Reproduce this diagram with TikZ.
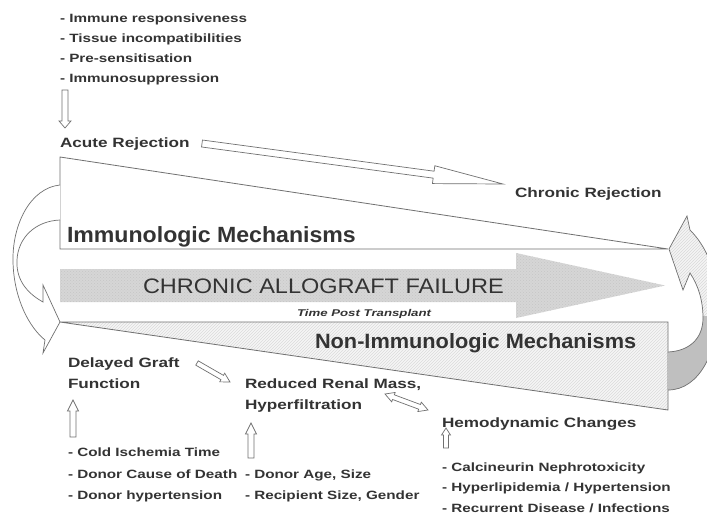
\documentclass[tikz,border=0pt]{standalone}
\usepackage{fontspec}
\setmainfont{Liberation Sans}
\newfontfamily\lblfont[FakeStretch=1.27]{Liberation Sans}
\newfontfamily\bigfont[FakeStretch=1.05]{Liberation Sans}
\newfontfamily\chfont[FakeStretch=1.12]{Liberation Sans}
\newfontfamily\tptfont[FakeStretch=1.35]{Liberation Sans}
\usetikzlibrary{calc,patterns}
\definecolor{txt}{HTML}{333333}
\definecolor{ln}{HTML}{707070}
\newcommand\hollowarr[5]{%
  \coordinate (hah) at ($(#2)!#5!(#1)$);
  \draw[blockarr] ($(#1)!#3!90:(#2)$) -- ($(hah)!#3!90:(#2)$) -- ($(hah)!#4!90:(#2)$) -- (#2)
    -- ($(hah)!#4!-90:(#2)$) -- ($(hah)!#3!-90:(#2)$) -- ($(#1)!#3!-90:(#2)$) -- cycle;
}
\newcommand\hollowdbl[5]{%
  \coordinate (hdA) at ($(#1)!#5!(#2)$);
  \coordinate (hdB) at ($(#2)!#5!(#1)$);
  \draw[blockarr] (#1) -- ($(hdA)!#4!90:(#2)$) -- ($(hdA)!#3!90:(#2)$) -- ($(hdB)!#3!90:(#2)$)
    -- ($(hdB)!#4!90:(#2)$) -- (#2) -- ($(hdB)!#4!-90:(#2)$) -- ($(hdB)!#3!-90:(#2)$)
    -- ($(hdA)!#3!-90:(#2)$) -- ($(hdA)!#4!-90:(#2)$) -- cycle;
}
\begin{document}
\begin{tikzpicture}[x=1pt,y=-1pt,
  every node/.style={inner sep=0pt, outer sep=0pt, text=txt},
  lbl/.style={anchor=base west, font=\lblfont\bfseries\fontsize{13.5}{16}\selectfont},
  lst/.style={anchor=base west, font=\lblfont\bfseries\fontsize{12}{14}\selectfont},
  blockarr/.style={draw=ln, line width=0.7pt, fill=white, line join=miter},
  wedgeline/.style={draw=ln, line width=0.8pt, line join=miter},
]
\useasboundingbox[fill=white] (0,0) rectangle (707,525);

% immunologic wedge
\draw[wedgeline, fill=white] (60,157) -- (668,249) -- (60,249) -- cycle;

% main gray arrow
\fill[gray!32] (60,269) -- (516,269) -- (516,253) -- (665,285.5) -- (516,318) -- (516,302) -- (60,302) -- cycle;
\fill[pattern=crosshatch dots, pattern color=gray!45] (60,269) -- (516,269) -- (516,253) -- (665,285.5) -- (516,318) -- (516,302) -- (60,302) -- cycle;

% non-immunologic wedge
\fill[gray!7] (60,322) -- (668,322) -- (668,410) -- cycle;
\fill[pattern=north east lines, pattern color=gray!28] (60,322) -- (668,322) -- (668,410) -- cycle;
\draw[wedgeline] (60,322) -- (668,322) -- (668,410) -- cycle;

% right curved arrow (cut by the picture's right edge)
\fill[gray!8] (668,390) .. controls (700,390) and (718,350) .. (718,310)
  .. controls (718,270) and (705,245) .. (690,230) -- (687,216) -- (669,249) -- (683,290) -- (690,273)
  .. controls (698,285) and (703,300) .. (703,318) .. controls (703,338) and (690,351) .. (668,352) -- cycle;
\fill[pattern=north east lines, pattern color=gray!30] (668,390) .. controls (700,390) and (718,350) .. (718,310)
  .. controls (718,270) and (705,245) .. (690,230) -- (687,216) -- (669,249) -- (683,290) -- (690,273)
  .. controls (698,285) and (703,300) .. (703,318) .. controls (703,338) and (690,351) .. (668,352) -- cycle;
\begin{scope}
  \clip (600,316) rectangle (720,400);
  \fill[gray!50] (668,390) .. controls (700,390) and (718,350) .. (718,310)
    .. controls (718,270) and (705,245) .. (690,230) -- (687,216) -- (669,249) -- (683,290) -- (690,273)
    .. controls (698,285) and (703,300) .. (703,318) .. controls (703,338) and (690,351) .. (668,352) -- cycle;
\end{scope}
\draw[draw=ln, line width=0.7pt] (668,390) .. controls (700,390) and (718,350) .. (718,310)
  .. controls (718,270) and (705,245) .. (690,230) -- (687,216) -- (669,249) -- (683,290) -- (690,273)
  .. controls (698,285) and (703,300) .. (703,318) .. controls (703,338) and (690,351) .. (668,352);

% left curved arrow
\draw[draw=ln, line width=0.7pt, fill=white] (60,185) .. controls (30,188) and (12,225) .. (13,262)
  .. controls (14,300) and (30,328) .. (45,340) -- (43,353) -- (60,322) -- (43,285) -- (43,302)
  .. controls (25,292) and (16,278) .. (17,260) .. controls (18,238) and (35,221) .. (60,220);

% texts
\node[lst] (r1) at (60,22) {- Immune responsiveness};
\node[lst] (r2) at (60,42) {- Tissue incompatibilities};
\node[lst] (r3) at (60,62) {- Pre-sensitisation};
\node[lst] (r4) at (60,82) {- Immunosuppression};
\node[lbl] (acute) at (60,147) {Acute Rejection};
\node[lbl] (chronic) at (515,197) {Chronic Rejection};
\node[anchor=base west, font=\bigfont\bfseries\fontsize{22}{26}\selectfont] (imm) at (67,242) {Immunologic Mechanisms};
\node[anchor=base west, font=\chfont\fontsize{21}{24}\selectfont] (caf) at (143,293) {CHRONIC ALLOGRAFT FAILURE};
\node[anchor=base west, font=\tptfont\bfseries\itshape\fontsize{9.8}{11}\selectfont] (tpt) at (297,316) {Time Post Transplant};
\node[anchor=base west, font=\bigfont\bfseries\fontsize{20.7}{24}\selectfont] (nonimm) at (315,348) {Non-Immunologic Mechanisms};
\node[lbl] (dgf1) at (68,367) {Delayed Graft};
\node[lbl] (dgf2) at (68,388) {Function};
\node[lbl] (rrm1) at (245,388) {Reduced Renal Mass,};
\node[lbl] (rrm2) at (245,409) {Hyperfiltration};
\node[lbl] (hemo) at (442,427) {Hemodynamic Changes};
\node[lst] (c1) at (68,456) {- Cold Ischemia Time};
\node[lst] (c2) at (68,478) {- Donor Cause of Death};
\node[lst] (c3) at (68,499) {- Donor hypertension};
\node[lst] (d1) at (245,478) {- Donor Age, Size};
\node[lst] (d2) at (245,499) {- Recipient Size, Gender};
\node[lst] (e1) at (442,471) {- Calcineurin Nephrotoxicity};
\node[lst] (e2) at (442,491) {- Hyperlipidemia / Hypertension};
\node[lst] (e3) at (442,512) {- Recurrent Disease / Infections};

% hollow arrows
\coordinate (dA) at (65,90);    \coordinate (dB) at (65,128);
\hollowarr{dA}{dB}{3pt}{6pt}{7pt}
\coordinate (tA) at (202,143.5); \coordinate (tB) at (503,184);
\hollowarr{tA}{tB}{3.5pt}{9pt}{70pt}
\coordinate (u1A) at (73,437);  \coordinate (u1B) at (73,400);
\hollowarr{u1A}{u1B}{3pt}{5.5pt}{11pt}
\coordinate (u2A) at (251,458); \coordinate (u2B) at (251,423);
\hollowarr{u2A}{u2B}{3pt}{5.5pt}{11pt}
\coordinate (u3A) at (446,448); \coordinate (u3B) at (446,428);
\hollowarr{u3A}{u3B}{2.5pt}{4.5pt}{7pt}
\coordinate (gA) at (197,363);  \coordinate (gB) at (230,382);
\hollowarr{gA}{gB}{2.5pt}{5pt}{9pt}
\coordinate (hA) at (385,394);  \coordinate (hB) at (428,410);
\hollowdbl{hA}{hB}{2.5pt}{5pt}{9pt}
\end{tikzpicture}
\end{document}
